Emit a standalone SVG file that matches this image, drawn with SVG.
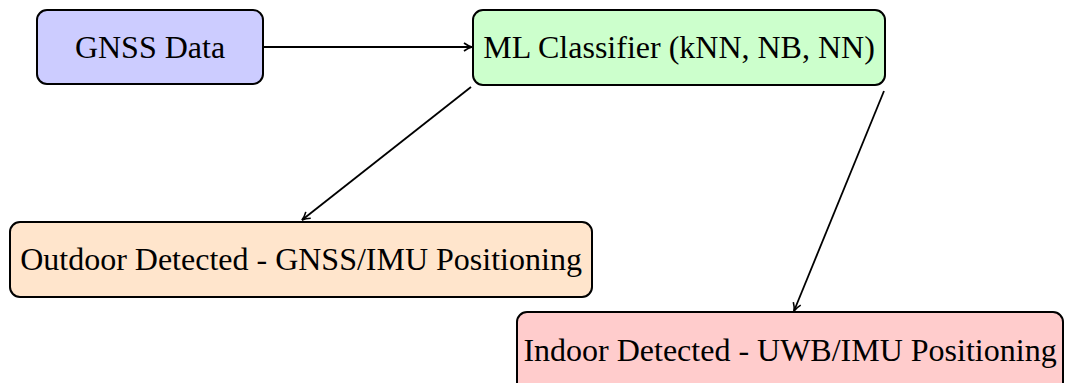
<svg xmlns="http://www.w3.org/2000/svg" width="1065" height="383" viewBox="0 0 1065 383">
  <style>
    .box { stroke: #000; stroke-width: 2; }
    .label { font-family: "Liberation Serif", "Times New Roman", serif; font-size: 32px; fill: #000; text-anchor: middle; dominant-baseline: central; }
    .edge { stroke: #000; stroke-width: 1.8; fill: none; marker-end: url(#arrow); }
  </style>
  <defs>
    <marker id="arrow" markerWidth="10" markerHeight="10" refX="9" refY="5" orient="auto" markerUnits="userSpaceOnUse">
      <path d="M1,1 Q5,4 9,5 Q5,6 1,9" fill="none" stroke="#000" stroke-width="1.6"/>
    </marker>
  </defs>

  <g id="connectors">
    <line class="edge" x1="264" y1="47" x2="472" y2="47"/>
    <line class="edge" x1="471" y1="87" x2="302" y2="220"/>
    <line class="edge" x1="884" y1="91" x2="794" y2="311"/>
  </g>

  <g id="gnss-data">
    <rect class="box" x="37" y="10" width="226" height="74" rx="10" fill="#ccccff"/>
    <text class="label" x="150" y="47">GNSS Data</text>
  </g>

  <g id="ml-classifier">
    <rect class="box" x="473" y="10" width="412" height="75" rx="10" fill="#ccffcc"/>
    <text class="label" x="679" y="47">ML Classifier (kNN, NB, NN)</text>
  </g>

  <g id="outdoor">
    <rect class="box" x="10" y="222" width="582" height="75" rx="10" fill="#ffe5cc"/>
    <text class="label" x="301" y="259">Outdoor Detected - GNSS/IMU Positioning</text>
  </g>

  <g id="indoor">
    <rect class="box" x="517" y="312" width="546" height="80" rx="10" fill="#ffcccc"/>
    <text class="label" x="790" y="350">Indoor Detected - UWB/IMU Positioning</text>
  </g>
</svg>
